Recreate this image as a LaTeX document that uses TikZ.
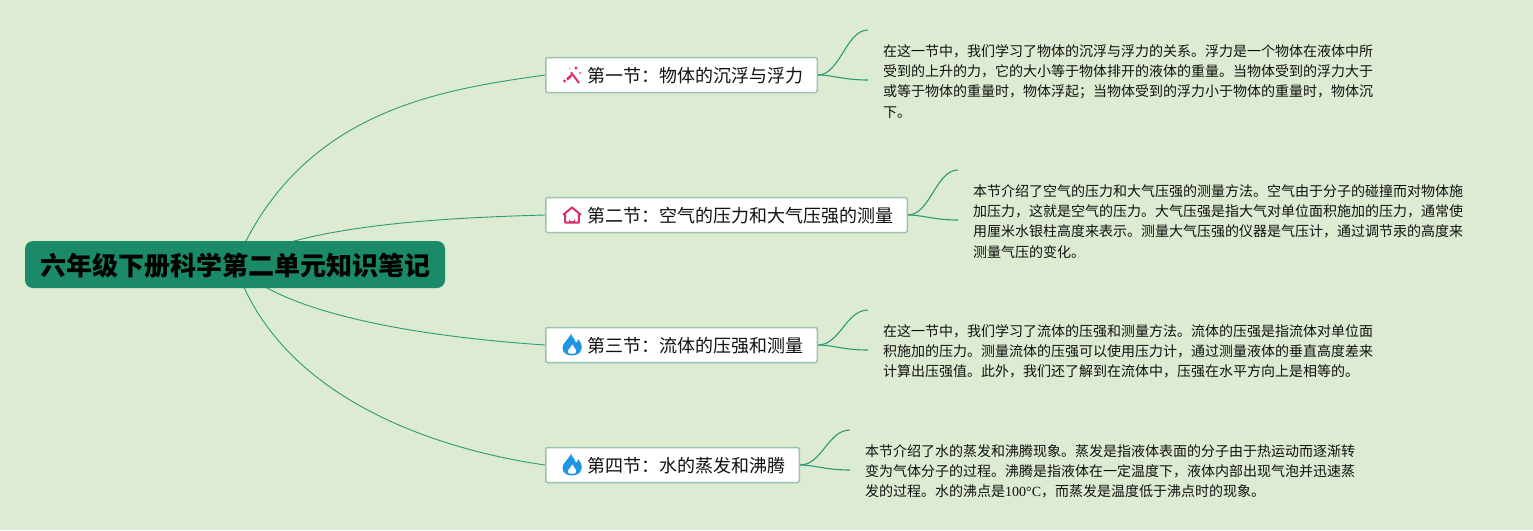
\documentclass[tikz,border=0pt]{standalone}
\usepackage{fontspec}
\setmainfont{Noto Sans CJK SC}
\newfontfamily\latinfont{Liberation Serif}
\usetikzlibrary{backgrounds,calc}
\definecolor{ground}{HTML}{DCEBD1}
\definecolor{rootfill}{HTML}{1B8A68}
\definecolor{link}{HTML}{2E9A75}
\definecolor{frame}{HTML}{9CC2B6}
\definecolor{ink}{HTML}{111111}
\definecolor{rose}{HTML}{DC2F63}
\definecolor{flame}{HTML}{1E96E2}
\tikzset{
  rootbox/.style = {fill=rootfill, rounded corners=8pt, minimum height=47pt, inner xsep=15pt, inner ysep=0pt,
    text height=22.8pt, text depth=0pt, font=\fontsize{26}{30}\selectfont\bfseries\color{black}},
  secbox/.style  = {draw=frame, fill=white, line width=1.5pt, rounded corners=2pt, minimum height=35pt,
    inner xsep=14.25pt, inner ysep=0pt, anchor=west, text height=15.6pt, text depth=0pt,
    font=\fontsize{18}{22}\selectfont\color{ink}},
  note/.style    = {anchor=north west, inner sep=0pt, align=left, font=\fontsize{14}{20.2}\selectfont\color{ink}},
  wire/.style    = {draw=link, line width=0.9pt},
  fork/.style    = {draw=link, line width=1.1pt},
  flamepic/.pic  = {
    \fill[flame] (-1,-11) .. controls (1,-6) and (4,-6) .. (4,-2) .. controls (6,-3) and (6,-6) .. (6,-6)
      .. controls (10,-2) and (10,2) .. (9.5,4) .. controls (8.5,8) and (5,10.5) .. (0,10.5)
      .. controls (-5,10.5) and (-9.5,8) .. (-9.5,3) .. controls (-9.5,-2) and (-4,-5) .. (-1,-11) -- cycle;
    \fill[white] (0.5,-0.5) .. controls (2,3) and (5,4.5) .. (3.8,7.5) .. controls (2.5,9.3) and (-2.5,9.3) .. (-3.8,7.5)
      .. controls (-5,4.5) and (-1,3) .. (0.5,-0.5) -- cycle;
  },
  housepic/.pic  = {
    \draw[rose, line width=2pt, line join=round, line cap=round] (-8.5,-0.5) -- (0,-7.5) -- (8.5,-0.5)
      (-6.8,-1) -- (-6.8,7.5) -- (6.8,7.5) -- (6.8,-1);
    \fill[rose] (-3,7.5) -- (-3,3.5) arc[start angle=180, end angle=0, radius=3] -- (3,7.5) -- cycle;
  },
  wandpic/.pic   = {
    \draw[rose, line width=2.4pt] (-5,4.5) -- (-0.5,0.2);
    \draw[rose, line width=2pt] (-1,-2.7) -- (7,8);
    \fill[rose] (4,-7) circle[radius=1.7] (8,-2) circle[radius=1] (-7.5,6) circle[radius=1.7] (-2,-6) circle[radius=0.7];
  },
}
\begin{document}
\begin{tikzpicture}[x=1pt,y=-1pt]

% ---- root and sections ---------------------------------------------------
\node[rootbox] (root) at (235,264.5) {六年级下册科学第二单元知识笔记};

\node[secbox] (sec1) at (545,75)  {\hspace*{27pt}第一节：物体的沉浮与浮力};
\node[secbox] (sec2) at (545,215) {\hspace*{27pt}第二节：空气的压力和大气压强的测量};
\node[secbox] (sec3) at (545,345) {\hspace*{27pt}第三节：流体的压强和测量};
\node[secbox] (sec4) at (545,465) {\hspace*{27pt}第四节：水的蒸发和沸腾};

% icons sit in the blank part of each box
\pic at (572,75)  {wandpic};
\pic at (572,215) {housepic};
\pic at (572,345) {flamepic};
\pic at (572,465) {flamepic};

% ---- notes ---------------------------------------------------------------
\node[note] (note1) at (883,44.5) {在这一节中，我们学习了物体的沉浮与浮力的关系。浮力是一个物体在液体中所\\
  受到的上升的力，它的大小等于物体排开的液体的重量。当物体受到的浮力大于\\
  或等于物体的重量时，物体浮起；当物体受到的浮力小于物体的重量时，物体沉\\
  下。};
\node[note] (note2) at (973,184.5) {本节介绍了空气的压力和大气压强的测量方法。空气由于分子的碰撞而对物体施\\
  加压力，这就是空气的压力。大气压强是指大气对单位面积施加的压力，通常使\\
  用厘米水银柱高度来表示。测量大气压强的仪器是气压计，通过调节汞的高度来\\
  测量气压的变化。};
\node[note] (note3) at (883,324.5) {在这一节中，我们学习了流体的压强和测量方法。流体的压强是指流体对单位面\\
  积施加的压力。测量流体的压强可以使用压力计，通过测量液体的垂直高度差来\\
  计算出压强值。此外，我们还了解到在流体中，压强在水平方向上是相等的。};
\node[note] (note4) at (865,444.5) {本节介绍了水的蒸发和沸腾现象。蒸发是指液体表面的分子由于热运动而逐渐转\\
  变为气体分子的过程。沸腾是指液体在一定温度下，液体内部出现气泡并迅速蒸\\
  发的过程。水的沸点是{\latinfont 100°C}，而蒸发是温度低于沸点时的现象。};

% free ends of the forks
\coordinate (tip1a) at (868,30);  \coordinate (tip1b) at (868,80);
\coordinate (tip2a) at (958,170); \coordinate (tip2b) at (958,220);
\coordinate (tip3a) at (868,310); \coordinate (tip3b) at (868,350);
\coordinate (tip4a) at (850,430); \coordinate (tip4b) at (850,470);

% ---- connectors ----------------------------------------------------------
\begin{scope}[on background layer]
\path[use as bounding box, fill=ground] (0,0) rectangle (1533,530);
\draw[wire] (root.center) .. controls (300,110) and (440,90) .. (sec1.west);
\draw[wire] (root.center) .. controls (300,225) and (440,218) .. (sec2.west);
\draw[wire] (root.center) .. controls (285,318) and (440,338) .. (sec3.west);
\draw[wire] (root.center) .. controls (280,400) and (440,450) .. (sec4.west);
\foreach \s in {1,2,3,4} {
  \draw[fork] (sec\s.east) .. controls +(22,0) and ($(tip\s a)+(-22,0)$) .. (tip\s a);
  \draw[fork] (sec\s.east) .. controls +(15,0) and ($(tip\s b)+(-25,0)$) .. (tip\s b);
}
\end{scope}

\end{tikzpicture}
\end{document}
